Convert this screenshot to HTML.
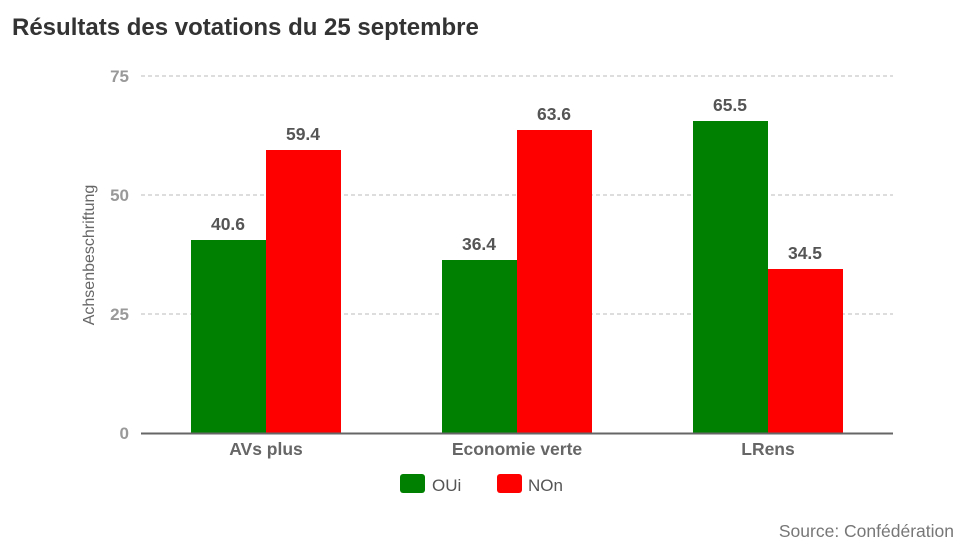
<!DOCTYPE html>
<html><head><meta charset="utf-8"><style>
body{margin:0;background:#fff;}
svg{display:block;font-family:"Liberation Sans",sans-serif;}
</style></head><body>
<svg width="969" height="545" viewBox="0 0 969 545">
<text x="12" y="35" font-size="24" font-weight="bold" fill="#333">Résultats des votations du 25 septembre</text>
<g stroke="#bbb" stroke-dasharray="4,3" stroke-width="1">
<line x1="141" y1="76" x2="893" y2="76"/>
<line x1="141" y1="195" x2="893" y2="195"/>
<line x1="141" y1="314" x2="893" y2="314"/>
</g>
<g font-size="17" font-weight="bold" fill="#999" text-anchor="end">
<text x="129" y="82">75</text>
<text x="129" y="201">50</text>
<text x="129" y="320">25</text>
<text x="129" y="439">0</text>
</g>
<text transform="translate(94,255) rotate(-90)" font-size="16" fill="#666" text-anchor="middle">Achsenbeschriftung</text>
<g fill="#008000">
<rect x="191" y="240" width="75" height="193"/>
<rect x="442" y="260" width="75" height="173"/>
<rect x="693" y="121" width="75" height="312"/>
</g>
<g fill="#ff0000">
<rect x="266" y="150" width="75" height="283"/>
<rect x="517" y="130" width="75" height="303"/>
<rect x="768" y="269" width="75" height="164"/>
</g>
<line x1="141" y1="433.5" x2="893" y2="433.5" stroke="#666" stroke-width="2"/>
<g font-size="17.5" font-weight="bold" fill="#555" text-anchor="middle">
<text x="228" y="230">40.6</text>
<text x="303" y="140">59.4</text>
<text x="479" y="250">36.4</text>
<text x="554" y="120">63.6</text>
<text x="730" y="111">65.5</text>
<text x="805" y="259">34.5</text>
<text x="266" y="455" fill="#666">AVs plus</text>
<text x="517" y="455" fill="#666">Economie verte</text>
<text x="768" y="455" fill="#666">LRens</text>
</g>
<rect x="400" y="474" width="25" height="19" rx="3" fill="#008000"/>
<text x="432" y="491" font-size="17" fill="#555">OUi</text>
<rect x="497" y="474" width="25" height="19" rx="3" fill="#ff0000"/>
<text x="528" y="491" font-size="17" fill="#555">NOn</text>
<text x="954" y="537" font-size="17.5" fill="#777" text-anchor="end">Source: Confédération</text>
</svg>
</body></html>
